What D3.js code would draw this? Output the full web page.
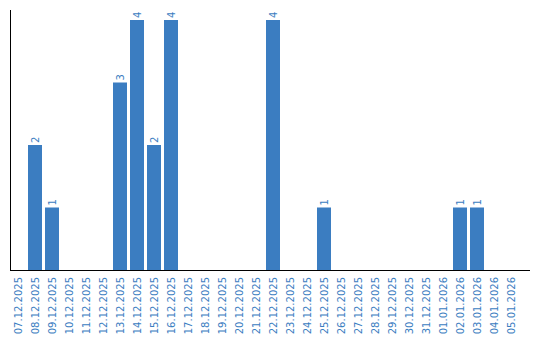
<!DOCTYPE html>
<html>
<head>
<meta charset="utf-8">
<script src="https://cdn.jsdelivr.net/npm/d3@7"></script>
<style>
  body { margin: 0; background: #fff; }
  text { font-family: "DejaVu Sans", Verdana, sans-serif; fill: #3b7dc1; }
</style>
</head>
<body>
<script>
// Daily counts bar chart
const width = 540;
const height = 340;

const dates = [
	'07.12.2025', '08.12.2025', '09.12.2025', '10.12.2025', '11.12.2025',
	'12.12.2025', '13.12.2025', '14.12.2025', '15.12.2025', '16.12.2025',
	'17.12.2025', '18.12.2025', '19.12.2025', '20.12.2025', '21.12.2025',
	'22.12.2025', '23.12.2025', '24.12.2025', '25.12.2025', '26.12.2025',
	'27.12.2025', '28.12.2025', '29.12.2025', '30.12.2025', '31.12.2025',
	'01.01.2026', '02.01.2026', '03.01.2026', '04.01.2026', '05.01.2026'
];
const counts = [
	0, 2, 1, 0, 0,
	0, 3, 4, 2, 4,
	0, 0, 0, 0, 0,
	4, 0, 0, 1, 0,
	0, 0, 0, 0, 0,
	0, 1, 1, 0, 0
];

const data = dates.map((d, i) => ({date: d, value: counts[i]}));

const svg = d3.select('body')
	.append('svg')
	.attr('width', width)
	.attr('height', height);

const xScale = d3.scaleBand()
	.domain(dates)
	.range([11, 11 + 30 * 17])
	.paddingInner(3 / 17)
	.paddingOuter(1.5 / 17)
	.align(0);

const yScale = d3.scaleLinear()
	.domain([0, 4])
	.range([270, 20]);

svg.append('g')									// Bars
	.selectAll('rect')
	.data(data.filter(d => d.value > 0))
	.join('rect')
	.attr('x', d => xScale(d.date))
	.attr('y', d => yScale(d.value))
	.attr('width', xScale.bandwidth())
	.attr('height', d => yScale(0) - yScale(d.value))
	.attr('fill', '#3b7dc1');

svg.append('g')									// Value labels
	.selectAll('text')
	.data(data.filter(d => d.value > 0))
	.join('text')
	.attr('transform', d => `translate(${xScale(d.date) + xScale.bandwidth() / 2 + 3.5}, ${yScale(d.value) - 2}) rotate(-90)`)
	.attr('font-size', '10px')
	.text(d => d.value);

svg.append('g')									// X labels
	.selectAll('text')
	.data(dates)
	.join('text')
	.attr('transform', d => `translate(${xScale(d) + xScale.bandwidth() / 2 + 3.5}, 277) rotate(-90)`)
	.attr('text-anchor', 'end')
	.attr('font-size', '10px')
	.text(d => d);

svg.append('line')								// Y-axis
	.attr('x1', 10.5).attr('x2', 10.5)
	.attr('y1', 10).attr('y2', 270)
	.attr('stroke', '#000');

svg.append('line')								// X-axis
	.attr('x1', 10).attr('x2', 530)
	.attr('y1', 270.5).attr('y2', 270.5)
	.attr('stroke', '#000');
</script>
</body>
</html>
